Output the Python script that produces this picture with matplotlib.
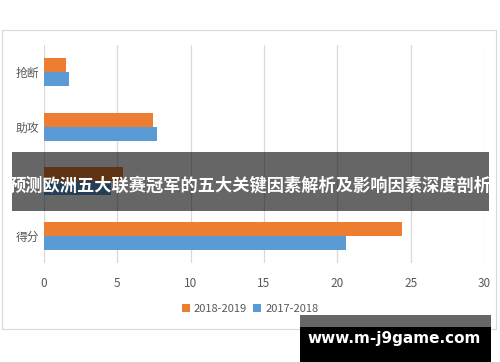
import matplotlib.pyplot as plt
from matplotlib.patches import Rectangle

plt.rcParams['font.family'] = ['Noto Sans CJK SC', 'DejaVu Sans']

# data (bottom to top)
categories = ['得分', '篮板', '助攻', '抢断']
season_1819 = [24.4, 5.4, 7.4, 1.5]
season_1718 = [20.6, 4.6, 7.7, 1.7]
xticks = [0, 5, 10, 15, 20, 25, 30]

orange = '#ed7d31'
blue = '#5b9bd5'
grey_txt = '#595959'

fig = plt.figure(figsize=(5, 3.62), dpi=100)
ax = fig.add_axes([0.088, 0.2735, 0.88, 0.602])

h = 0.257
ys = list(range(len(categories)))
ax.barh([y + h / 2 for y in ys], season_1819, height=h, color=orange, label='2018-2019', zorder=3)
ax.barh([y - h / 2 for y in ys], season_1718, height=h, color=blue, label='2017-2018', zorder=3)

ax.set_xlim(0, 30)
ax.set_ylim(-0.5, len(categories) - 0.5)
ax.set_xticks(xticks)
ax.set_yticks(ys)
ax.set_yticklabels(categories)
ax.tick_params(length=0, colors=grey_txt, labelsize=8.5)
ax.tick_params(axis='x', pad=10)
ax.grid(axis='x', color='#d9d9d9', linewidth=0.9, zorder=0)
for s in ax.spines.values():
    s.set_visible(False)
# the banner hides this label in the reference
ax.get_yticklabels()[1].set_visible(False)

leg = fig.legend(loc='center', bbox_to_anchor=(0.5, 0.146), ncol=2, frameon=False,
                 fontsize=8, handlelength=0.7, handleheight=0.7, handletextpad=0.4,
                 columnspacing=0.5)
for t in leg.get_texts():
    t.set_color(grey_txt)

# chart outer border
fig.patches.append(Rectangle((2 / 500, 1 - 329 / 362), 494 / 500, 299 / 362,
                             transform=fig.transFigure, fill=False,
                             edgecolor='#d9d9d9', linewidth=0.8))

# title banner overlay
fig.patches.append(Rectangle((12 / 500, 1 - 211 / 362), 477 / 500, 59 / 362,
                             transform=fig.transFigure, facecolor='black',
                             alpha=0.6, zorder=5))
fig.text(250 / 500, 1 - 186 / 362, '预测欧洲五大联赛冠军的五大关键因素解析及影响因素深度剖析',
         ha='center', va='center', color='white', fontsize=12.4, fontweight='bold', zorder=6)

# watermark
fig.patches.append(Rectangle((300 / 500, 1 - 327 / 362), 191 / 500, 12 / 362,
                             transform=fig.transFigure, facecolor='#666666', zorder=5))
fig.patches.append(Rectangle((300 / 500, 0), 191 / 500, 35 / 362,
                             transform=fig.transFigure, facecolor='black', zorder=5))
fig.text(394 / 500, 1 - 338 / 362, 'www.m-j9game.com', ha='center', va='center',
         color='white', fontsize=11, fontweight='bold', family='DejaVu Sans', zorder=6)

fig.savefig('out.png', dpi=100)
